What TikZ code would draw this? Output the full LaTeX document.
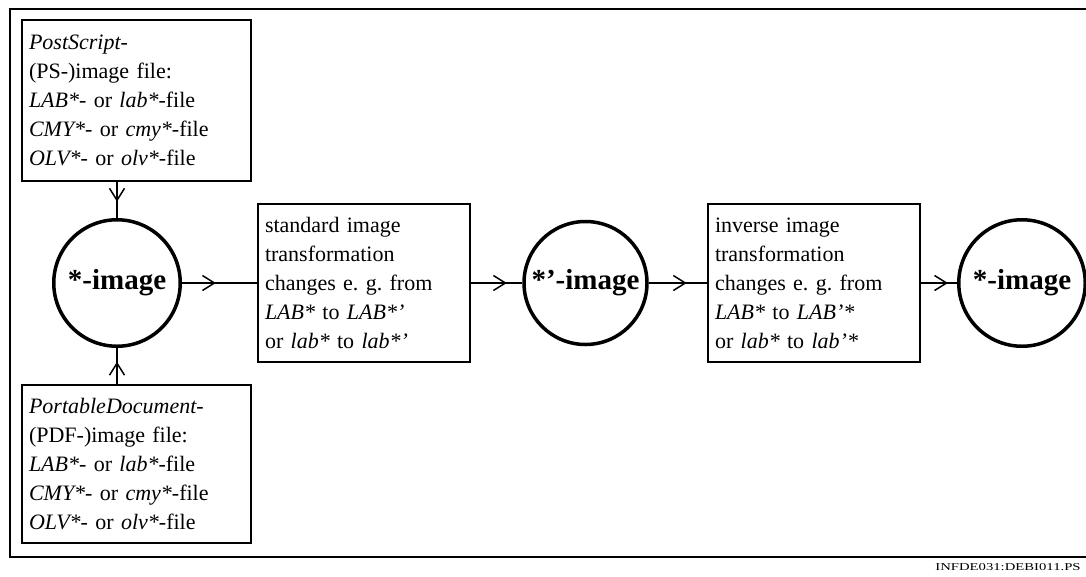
\documentclass[tikz,border=0pt]{standalone}
\usepackage{fontspec}
\setmainfont{Liberation Serif}
\usetikzlibrary{arrows.meta,decorations.markings}
\begin{document}
\frenchspacing
\begin{tikzpicture}[x=1pt,y=-1pt,
  txtbox/.style={draw,line width=1.6pt,rectangle,align=left,inner xsep=7pt,inner ysep=0pt,
    font=\fontsize{22}{29}\selectfont\frenchspacing},
  img/.style={draw,circle,line width=3.5pt,inner sep=0pt,font=\fontsize{29}{30}\selectfont\bfseries},
  mid/.style={line width=1.5pt,postaction={decorate},decoration={markings,
    mark=at position #1 with {\arrow{Straight Barb[length=12pt,width=15pt]}}}}]
\useasboundingbox (0,0) rectangle (1086,576);
\clip (0,0) rectangle (1086,576);
\draw[line width=1.8pt] (10,9) rectangle (1100,557);

\node[txtbox,minimum width=229pt,minimum height=161pt,text width=215pt] (ps) at (136.5,100.5)
 {\textit{PostScript-}\\(PS-)image file:\\\textit{LAB*}- or \textit{lab*}-file\\\textit{CMY*}- or \textit{cmy*}-file\\\textit{OLV*}- or \textit{olv*}-file};
\node[txtbox,minimum width=229pt,minimum height=158pt,text width=215pt] (pdf) at (136.5,464)
 {\textit{PortableDocument-}\\(PDF-)image file:\\\textit{LAB*}- or \textit{lab*}-file\\\textit{CMY*}- or \textit{cmy*}-file\\\textit{OLV*}- or \textit{olv*}-file};
\node[txtbox,minimum width=212pt,minimum height=158pt,text width=198pt] (std) at (364,283)
 {standard image\\transformation\\changes e. g. from\\\textit{LAB*} to \textit{LAB*’}\\or \textit{lab*} to \textit{lab*’}};
\node[txtbox,minimum width=212pt,minimum height=158pt,text width=198pt] (inv) at (814,283)
 {inverse image\\transformation\\changes e. g. from\\\textit{LAB*} to \textit{LAB’*}\\or \textit{lab*} to \textit{lab’*}};

\node[img,minimum size=126.5pt] (c1) at (117,283) {*-image};
\node[img,minimum size=123pt] (c2) at (585.5,283) {*’-image};
\node[img,minimum size=126.5pt] (c3) at (1022,283) {*-image};

\draw[mid=0.55] (ps.south -| c1) -- (c1.north);
\draw[mid=0.62] (pdf.north -| c1) -- (c1.south);
\draw[mid=0.45] (c1.east) -- (std.west);
\draw[mid=0.7] (std.east) -- (c2.west);
\draw[mid=0.65] (c2.east) -- (inv.west);
\draw[mid=0.75] (inv.east) -- (c3.west);

\node (lbl) at (1008,567) {\scalebox{1.4}[1]{\fontsize{10.5}{12}\selectfont INFDE031:DEBI011.PS}};
\end{tikzpicture}
\end{document}
